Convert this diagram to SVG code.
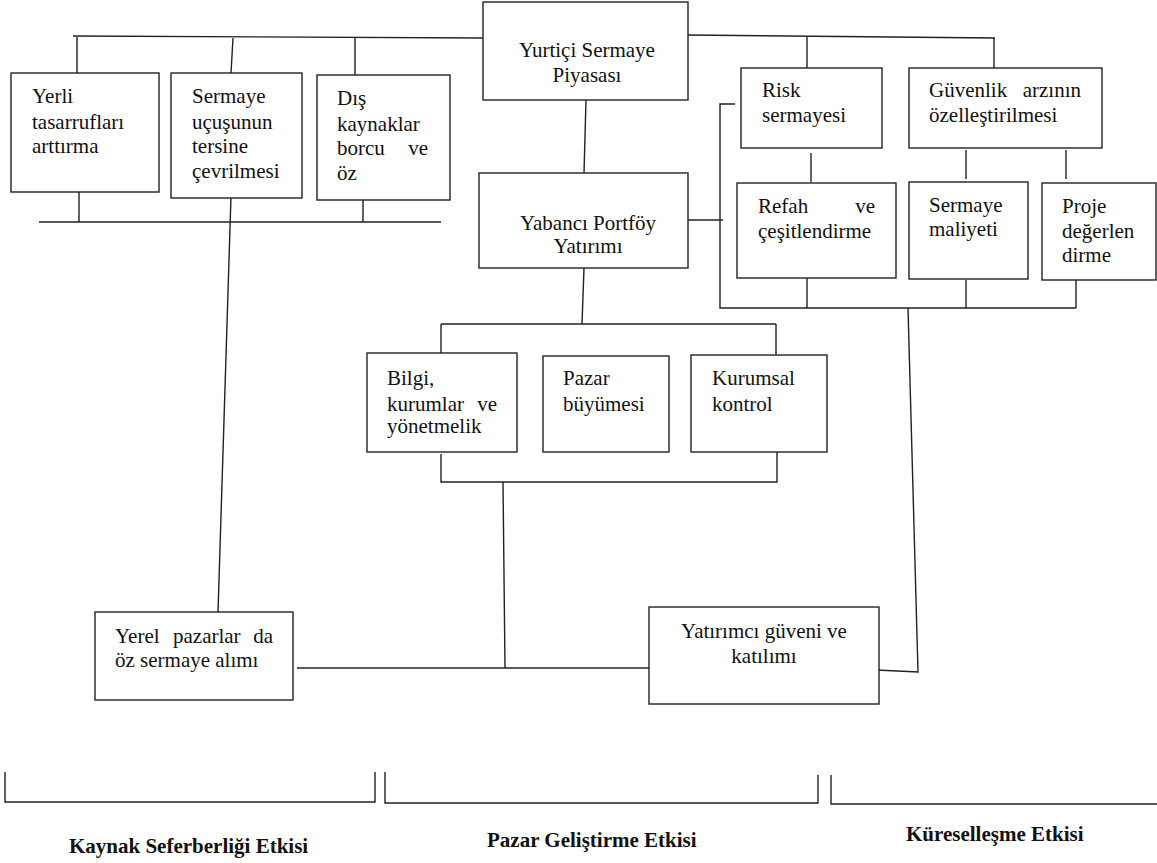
<svg xmlns="http://www.w3.org/2000/svg" width="1157" height="863" viewBox="0 0 1157 863" font-family="Liberation Serif, DejaVu Serif, serif">
<style>
.b{fill:#fff;stroke:#222;stroke-width:1.4}
.c{fill:none;stroke:#222;stroke-width:1.4}
text{font-size:21px;fill:#111}
.m{text-anchor:middle}
.e{text-anchor:end}
.h{font-weight:bold;font-size:21px}
</style>
<rect width="1157" height="863" fill="#fff"/>
<g id="connectors">
<path class="c" d="M73,36 L483,38"/>
<path class="c" d="M77,37 V73 M233,38 L231,73 M355,38 V75"/>
<path class="c" d="M39,222 H441 M79,192 V222 M363,200 V222"/>
<path class="c" d="M231,196 L218,612"/>
<path class="c" d="M586,100 L584,173"/>
<path class="c" d="M688,35 L995,38 M807,37 V68 M994,38 V68"/>
<path class="c" d="M688,220 H723"/>
<path class="c" d="M735,104 H720 V308 H1076"/>
<path class="c" d="M811,153 V182 M966,150 V179 M1066,150 V179"/>
<path class="c" d="M807,278 V308 M966,280 V308 M1076,280 V308"/>
<path class="c" d="M908,308 L918,672 L876,670"/>
<path class="c" d="M584,268 L582,324 M441,324 H776 M441,324 V353 M776,324 V355"/>
<path class="c" d="M441,454 V482 H777 V452 M503,482 L505,668"/>
<path class="c" d="M297,668 H653"/>
<path class="c" d="M5,772 V802 H375 V772 M385,772 V803 H818 V775 M831,775 V804 H1157"/>
</g>
<g id="n-yurtici"><rect class="b" x="483" y="2" width="205" height="98"/><text class="m" x="587" y="57">Yurtiçi Sermaye</text><text class="m" x="587" y="82">Piyasası</text></g>
<g id="n-yerli"><rect class="b" x="11" y="73" width="148" height="119"/><text x="32" y="103">Yerli</text><text x="32" y="129">tasarrufları</text><text x="32" y="153">arttırma</text></g>
<g id="n-ucus"><rect class="b" x="171" y="73" width="131" height="125"/><text x="192" y="103">Sermaye</text><text x="192" y="129">uçuşunun</text><text x="192" y="153">tersine</text><text x="192" y="178">çevrilmesi</text></g>
<g id="n-dis"><rect class="b" x="317" y="75" width="133" height="125"/><text x="337" y="105">Dış</text><text x="337" y="131">kaynaklar</text><text x="337" y="155">borcu</text><text class="e" x="428" y="155">ve</text><text x="337" y="180">öz</text></g>
<g id="n-risk"><rect class="b" x="741" y="68" width="141" height="80"/><text x="762" y="97">Risk</text><text x="762" y="122">sermayesi</text></g>
<g id="n-guvenlik"><rect class="b" x="909" y="68" width="193" height="80"/><text x="929" y="97">Güvenlik</text><text class="e" x="1081" y="97">arzının</text><text x="929" y="122">özelleştirilmesi</text></g>
<g id="n-yabanci"><rect class="b" x="479" y="173" width="209" height="95"/><text class="m" x="588" y="230">Yabancı Portföy</text><text class="m" x="588" y="253">Yatırımı</text></g>
<g id="n-refah"><rect class="b" x="737" y="183" width="159" height="95"/><text x="758" y="213">Refah</text><text class="e" x="875" y="213">ve</text><text x="758" y="238">çeşitlendirme</text></g>
<g id="n-maliyet"><rect class="b" x="909" y="182" width="119" height="97"/><text x="929" y="212">Sermaye</text><text x="929" y="236">maliyeti</text></g>
<g id="n-proje"><rect class="b" x="1042" y="183" width="114" height="97"/><text x="1062" y="213">Proje</text><text x="1062" y="238">değerlen</text><text x="1062" y="262">dirme</text></g>
<g id="n-bilgi"><rect class="b" x="367" y="353" width="150" height="99"/><text x="387" y="385">Bilgi,</text><text x="387" y="411">kurumlar</text><text class="e" x="497" y="411">ve</text><text x="387" y="433">yönetmelik</text></g>
<g id="n-pazar"><rect class="b" x="543" y="356" width="126" height="96"/><text x="563" y="385">Pazar</text><text x="563" y="411">büyümesi</text></g>
<g id="n-kurumsal"><rect class="b" x="691" y="355" width="136" height="97"/><text x="712" y="385">Kurumsal</text><text x="712" y="411">kontrol</text></g>
<g id="n-yerel"><rect class="b" x="95" y="612" width="198" height="88"/><text x="115" y="643">Yerel</text><text x="173" y="643">pazarlar</text><text class="e" x="273" y="643">da</text><text x="115" y="667">öz sermaye alımı</text></g>
<g id="n-yatirimci"><rect class="b" x="649" y="607" width="230" height="97"/><text class="m" x="764" y="638">Yatırımcı güveni ve</text><text class="m" x="764" y="663">katılımı</text></g>
<g id="labels"><text class="h" x="69" y="853">Kaynak Seferberliği Etkisi</text><text class="h" x="487" y="847">Pazar Geliştirme Etkisi</text><text class="h" x="906" y="841">Küreselleşme Etkisi</text></g>
</svg>
